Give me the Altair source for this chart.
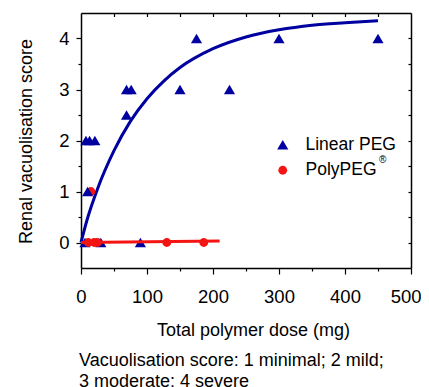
import altair as alt
import pandas as pd

# ---- data ----
linear_x = [7.5, 13, 21, 10, 6, 30, 90, 69, 69, 76, 150, 225, 175, 300, 450]
linear_y = [2, 2, 2, 1, 0, 0, 0, 2.5, 3, 3, 3, 3, 4, 4, 4]
poly_x = [15, 11, 20, 25, 130, 186]
poly_y = [1, 0, 0, 0, 0, 0]
curve_x = [0, 10, 25, 50, 75, 100, 125, 150, 200, 250, 300, 350, 400, 450]
curve_y = [0, 0.48, 1.05, 1.8, 2.38, 2.82, 3.16, 3.43, 3.8, 4.03, 4.17, 4.26, 4.31, 4.35]
polyfit_x = [0, 210]
polyfit_y = [0.0, 0.03]
series = ["Linear PEG", "PolyPEG"]
x_major = [0, 100, 200, 300, 400]
x_last = [500]
x_minor = [50, 150, 250, 350, 450]
x_top = [50, 100, 150, 200, 250, 300, 350, 400, 450]
y_major = [0, 1, 2, 3, 4]
y_minor = [0.5, 1.5, 2.5, 3.5]
y_right = [0, 0.5, 1, 1.5, 2, 2.5, 3, 3.5, 4]
x_title = "Total polymer dose (mg)"
y_title = "Renal vacuolisation score"
caption = ["Vacuolisation score: 1 minimal; 2 mild;", "3 moderate: 4 severe"]
reg_mark = "\u00ae"

NAVY = "#0000a0"
RED = "#f41414"
FONT = "Liberation Sans"
W, H = 330, 255

lin_df = pd.DataFrame({"x": linear_x, "y": linear_y, "series": series[0]})
poly_df = pd.DataFrame({"x": poly_x, "y": poly_y, "series": series[1]})
curve_df = pd.DataFrame({"x": curve_x, "y": curve_y})
pline_df = pd.DataFrame({"x": polyfit_x, "y": polyfit_y})

xs = alt.Scale(domain=[0, 500], nice=False, zero=False)
ys = alt.Scale(domain=[-0.5, 4.5], nice=False, zero=False)

ax_major = alt.Axis(orient="bottom", values=x_major, tickSize=6, tickColor="black",
                    tickWidth=1.2, domainColor="black", domainWidth=1.5,
                    labelFont=FONT, labelFontSize=18.5, labelColor="black",
                    labelPadding=13, grid=False, title=x_title, titleFont=FONT,
                    titleFontSize=18, titleFontWeight="normal", titleColor="black",
                    titleX=172, titleY=67, titleAlign="center",
                    titleBaseline="alphabetic", labelFlush=False, labelOverlap=False)
ax_last = alt.Axis(orient="bottom", values=x_last, tickSize=6, tickColor="black",
                   tickWidth=1.2, domain=False, labelFont=FONT, labelFontSize=18.5,
                   labelColor="black", labelPadding=13, labelFlush=True,
                   labelFlushOffset=10, grid=False, title=None,
                   labelOverlap=False)
ay_major = alt.Axis(orient="left", values=y_major, tickSize=5, tickColor="black",
                    tickWidth=1.2, domainColor="black", domainWidth=1.5,
                    labelFont=FONT, labelFontSize=18.5, labelColor="black",
                    labelPadding=7, grid=False, title=y_title, titleFont=FONT,
                    titleFontSize=18, titleFontWeight="normal", titleColor="black",
                    titleX=-55, titleY=128, titleAlign="center",
                    titleBaseline="middle", titleAngle=270, labelFlush=False,
                    labelOverlap=False)
ax_minor = alt.Axis(orient="bottom", values=x_minor, tickSize=3, tickColor="black",
                    tickWidth=1.2, domain=False, labels=False, grid=False, title=None)
ay_minor = alt.Axis(orient="left", values=y_minor, tickSize=3, tickColor="black",
                    tickWidth=1.2, domain=False, labels=False, grid=False, title=None)
ax_top = alt.Axis(orient="bottom", offset=-H, values=x_top, tickSize=3.5,
                  tickColor="black", tickWidth=1.2, domainColor="black",
                  domainWidth=1.5, labels=False, grid=False, title=None)
ay_right = alt.Axis(orient="left", offset=-W, values=y_right, tickSize=3,
                    tickColor="black", tickWidth=1.2, domainColor="black",
                    domainWidth=1.5, labels=False, grid=False, title=None)

shape_scale = alt.Scale(domain=series, range=["triangle-up", "circle"])
color_scale = alt.Scale(domain=series, range=[NAVY, RED])
size_scale = alt.Scale(domain=series, range=[125, 78])
legend = alt.Legend(orient="none", legendX=193, legendY=123, title=None,
                    labelFont=FONT, labelFontSize=17.5, labelColor="black",
                    symbolStrokeWidth=0, labelOffset=14,
                    rowPadding=6.5, padding=0)


def point_enc(ch, axx, axy):
    return ch.encode(
        x=alt.X("x:Q", scale=xs, axis=axx),
        y=alt.Y("y:Q", scale=ys, axis=axy),
        shape=alt.Shape("series:N", scale=shape_scale, legend=legend),
        color=alt.Color("series:N", scale=color_scale, legend=legend),
        size=alt.Size("series:N", scale=size_scale, legend=legend),
    )


curve = alt.Chart(curve_df).mark_line(color=NAVY, strokeWidth=3,
                                      interpolate="monotone").encode(
    x=alt.X("x:Q", scale=xs, axis=ax_major),
    y=alt.Y("y:Q", scale=ys, axis=ay_major),
)

circ_hi = point_enc(
    alt.Chart(poly_df).transform_filter("datum.y > 0.5").mark_point(filled=True, opacity=1),
    ax_last, None)

tri = point_enc(alt.Chart(lin_df).mark_point(filled=True, opacity=1), ax_minor, ay_minor)

pline = alt.Chart(pline_df).mark_line(color=RED, strokeWidth=3).encode(
    x=alt.X("x:Q", scale=xs, axis=ax_top),
    y=alt.Y("y:Q", scale=ys, axis=ay_right),
)

circ_lo = point_enc(
    alt.Chart(poly_df).transform_filter("datum.y < 0.5").mark_point(filled=True, opacity=1),
    None, None)

reg = alt.Chart(pd.DataFrame({"t": [reg_mark]})).mark_text(
    font=FONT, fontSize=10, align="left", baseline="alphabetic", color="black"
).encode(text="t:N", x=alt.value(298), y=alt.value(150))

cap1 = alt.Chart(pd.DataFrame({"t": [caption[0]]})).mark_text(
    font=FONT, fontSize=18, align="left", baseline="alphabetic", color="black"
).encode(text="t:N", x=alt.value(-2), y=alt.value(352.5))

cap2 = alt.Chart(pd.DataFrame({"t": [caption[1]]})).mark_text(
    font=FONT, fontSize=18, align="left", baseline="alphabetic", color="black"
).encode(text="t:N", x=alt.value(-2), y=alt.value(373.5))

chart = alt.layer(curve, circ_hi, tri, pline, circ_lo, reg, cap1, cap2).resolve_axis(
    x="independent", y="independent"
).properties(
    width=W, height=H,
    autosize=alt.AutoSizeParams(type="none"),
    padding={"left": 73, "top": 5, "right": 10, "bottom": 119},
).configure_view(stroke=None)

chart.save("out.html", embed_options={"renderer": "svg", "actions": False})
